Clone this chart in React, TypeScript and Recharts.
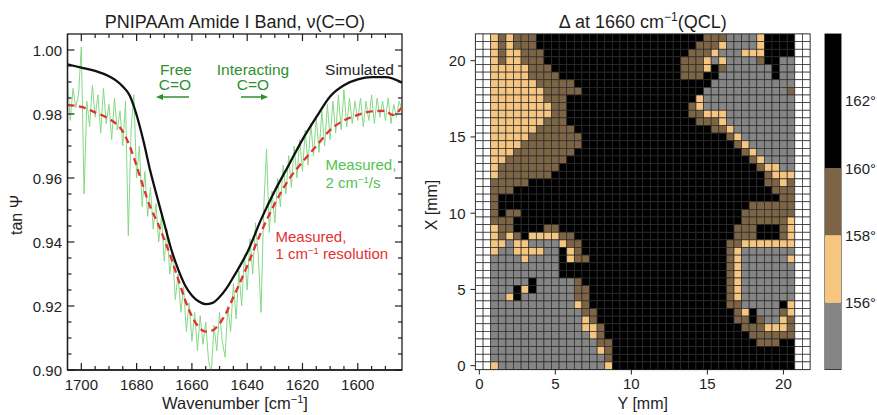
import { LineChart, Line, XAxis, YAxis, ScatterChart, Scatter, BarChart, Bar } from 'recharts';

const FONT = '"Liberation Sans", Arial, Helvetica, sans-serif';
const INK = '#1e1e1e';

// ---------- left panel: PNIPAAm amide I band ----------
const SIM_WN = [1705, 1700, 1695, 1690, 1687.5, 1685, 1682.5, 1680, 1677.5, 1675, 1672.5, 1670, 1667.5, 1665, 1662.5, 1660, 1657.5, 1655, 1652.5, 1650, 1647.5, 1645, 1642.5, 1640, 1635, 1630, 1625, 1620, 1615, 1610, 1605, 1600, 1595, 1590, 1584];
const SIMULATED = [0.9955, 0.9945, 0.9935, 0.9918, 0.9905, 0.9886, 0.9858, 0.9797, 0.9715, 0.962, 0.9538, 0.9458, 0.9378, 0.9315, 0.9265, 0.9233, 0.9214, 0.9206, 0.921, 0.9228, 0.9255, 0.929, 0.9327, 0.9367, 0.947, 0.956, 0.964, 0.972, 0.979, 0.9855, 0.989, 0.9908, 0.9915, 0.9915, 0.9898];
const MEAS_WN = [1705, 1700, 1695, 1690, 1687.5, 1685, 1682.5, 1680, 1677.5, 1675, 1672.5, 1670, 1667.5, 1665, 1662.5, 1660, 1657.5, 1655, 1652.5, 1650, 1647.5, 1645, 1642.5, 1640, 1635, 1630, 1625, 1620, 1615, 1610, 1605, 1600, 1595, 1590, 1587.5, 1584];
const MEASURED_1CM = [0.9828, 0.9822, 0.9805, 0.9785, 0.977, 0.9745, 0.97, 0.9638, 0.957, 0.9508, 0.9462, 0.9408, 0.935, 0.9285, 0.922, 0.9168, 0.9134, 0.912, 0.9124, 0.9145, 0.918, 0.9228, 0.9275, 0.9325, 0.943, 0.952, 0.9595, 0.965, 0.97, 0.975, 0.978, 0.9797, 0.9808, 0.981, 0.9797, 0.982];
// fast scan (2 cm-1/s), one reading per cm-1 from 1705 down to 1584
const SCAN_START = 1705;
const MEASURED_SCAN = [
  0.991, 0.978, 0.988, 0.982, 0.986, 1.001, 0.955, 0.984, 0.976, 0.989,
  0.979, 0.986, 0.974, 0.988, 0.977, 0.983, 0.972, 0.985, 0.975, 0.981,
  0.97, 0.984, 0.942, 0.975, 0.986, 0.96, 0.97, 0.951, 0.962, 0.948,
  0.957, 0.944, 0.952, 0.94, 0.948, 0.934, 0.944, 0.93, 0.937, 0.922,
  0.93, 0.918, 0.926, 0.912, 0.921, 0.909, 0.918, 0.906, 0.917, 0.908,
  0.915, 0.903, 0.899, 0.914, 0.906, 0.918, 0.909, 0.904, 0.92, 0.912,
  0.927, 0.916, 0.931, 0.92, 0.936, 0.925, 0.941, 0.93, 0.946, 0.936,
  0.918, 0.951, 0.969, 0.943, 0.956, 0.946, 0.96, 0.951, 0.964, 0.955,
  0.967, 0.957, 0.97, 0.96, 0.972, 0.962, 0.975, 0.964, 0.977, 0.967,
  0.979, 0.968, 0.981, 0.97, 0.983, 0.972, 0.984, 0.974, 0.986, 0.975,
  0.9875, 0.976, 0.985, 0.977, 0.984, 0.978, 0.985, 0.976, 0.984, 0.978,
  0.986, 0.977, 0.985, 0.979, 0.984, 0.978, 0.985, 0.977, 0.983, 0.979,
  0.984, 0.981,
];

const WN_LABELS = [1700, 1680, 1660, 1640, 1620, 1600];
const WN_TICKS = [1700, 1695, 1690, 1685, 1680, 1675, 1670, 1665, 1660, 1655, 1650, 1645, 1640, 1635, 1630, 1625, 1620, 1615, 1610, 1605, 1600, 1595, 1590];
const TAN_LABELS = [0.9, 0.92, 0.94, 0.96, 0.98, 1.0];
const TAN_TICKS = [0.9, 0.905, 0.91, 0.915, 0.92, 0.925, 0.93, 0.935, 0.94, 0.945, 0.95, 0.955, 0.96, 0.965, 0.97, 0.975, 0.98, 0.985, 0.99, 0.995, 1.0];

// ---------- right panel: Δ map, 0.5 mm pixels ----------
// k >160°, b 158-160°, t 156-158°, g <156°; rows from top (X = 21.5 mm) down to X = 0
// each row = [Y 1.0..10.5 mm, Y 11.0..20.5 mm]; the two outer columns each side are unmeasured
const HEAT_ROWS: [string, string][] = [
  ['tbtbbbkkkkkkkkkkkkkk', 'kkkkkkkkbbbggggtkkkk'],
  ['tbtbbbkkkkkkkkkkkkkk', 'kkkkkkkbbbtggggtkkkk'],
  ['tbttbbbkkkkkkkkkkkkk', 'kkkkkkbbbtgggtttkkkk'],
  ['tbttbbbkkkkkkkkkkkkk', 'kkkkkbbbtgtggggbkkgg'],
  ['tttttbbbkkkkkkkkkkkk', 'kkkkkbbbtkbggggggkgg'],
  ['tttttbbbbkkkkkkkkkkk', 'kkkkkbbbkkgggggggkgg'],
  ['ttttttbbbbbkkkkkkkkk', 'kkkkkkkkkggggggggggg'],
  ['tttttttbbbbbkkkkkkkk', 'kkkkkkkkgggggggggggb'],
  ['tttttttbbbkkkkkkkkkk', 'kkkkkkktgggggggggggg'],
  ['ttttttttbbkkkkkkkkkk', 'kkkkkkbtgggggggggggg'],
  ['ttttttttbbkkkkkkkkkk', 'kkkkkkbbtttggggggggg'],
  ['tttttttbbbkkkkkkkkkk', 'kkkkkkkbbbtggggggggg'],
  ['ttttttbbbbbkkkkkkkkk', 'kkkkkkkkkbbtgggggggg'],
  ['tttttbbbbbbbkkkkkkkk', 'kkkkkkkkkkkbtggggggg'],
  ['ttttbbbbbbbbkkkkkkkk', 'kkkkkkkkkkkkbtgggggg'],
  ['tttbbbbbbbbkkkkkkkkk', 'kkkkkkkkkkkkkbtggggg'],
  ['ttbbbbbbbbkkkkkkkkkk', 'kkkkkkkkkkkkkkbtgggg'],
  ['tbbbbbbbbkkkkkkkkkkk', 'kkkkkkkkkkkkkkkbttgg'],
  ['tbbbbbbbkkkkkkkkkkkk', 'kkkkkkkkkkkkkkkkbttt'],
  ['bbbbbkkkkkkkkkkkkkkk', 'kkkkkkkkkkkkkkkkbbtb'],
  ['bbbkkkkkkkkkkkkkkkkk', 'kkkkkkkkkkkkkkkkkbbb'],
  ['bkkkkkkkkkkkkkkkkkkk', 'kkkkkkkkkkkkkkkkkkbb'],
  ['bkkkkkkkkkkkkkkkkkkk', 'kkkkkkkkkkkkkkbbbbbb'],
  ['bkbbkkkkkkkkkkkkkkkk', 'kkkkkkkkkkkkkbbbbbbb'],
  ['bbbkkkkkkkkkkkkkkkkk', 'kkkkkkkkkkkkkbbbbbbt'],
  ['tbbkkkkbbkkkkkkkkkkk', 'kkkkkkkkkkkkbbbkkkbt'],
  ['tbtbkttttbbkkkkkkkkk', 'kkkkkkkkkkkkbbbkkkbt'],
  ['ttgttggggtbbkkkkkkkk', 'kkkkkkkkkkkbbttttttt'],
  ['tggttttggktbkkkkkkkk', 'kkkkkkkkkkkbtggggggg'],
  ['ggggtggggktbbkkkkkkk', 'kkkkkkkkkkkbtggggggt'],
  ['gggggggggkkkkkkkkkkk', 'kkkkkkkkkkkbtggggggg'],
  ['gggggggggkkkkkkkkkkk', 'kkkkkkkkkkkbtggggggg'],
  ['gggggkgggggbkkkkkkkk', 'kkkkkkkkkkkbtggggggg'],
  ['gggktkgggggbbkkkkkkk', 'kkkkkkkkkkkbtggggggg'],
  ['ggtkgggggggbbkkkkkkk', 'kkkkkkkkkkkbtggggggg'],
  ['gggggggggggtbkkkkkkk', 'kkkkkkkkkkkbbgggggkt'],
  ['ggggggggggggbbkkkkkk', 'kkkkkkkkkkkkbtkgggbt'],
  ['ggggggggggggtbkkkkkk', 'kkkkkkkkkkkkbbkbggtb'],
  ['ggggggggggggttbkkkkk', 'kkkkkkkkkkkkkbbbtttb'],
  ['gggggggggggggtbkkkkk', 'kkkkkkkkkkkkkkbbbbbb'],
  ['ggggggggggggggbbkkkk', 'kkkkkkkkkkkkkkkbbbkk'],
  ['ggggggggggggggtbkkkk', 'kkkkkkkkkkkkkkkkkkkk'],
  ['gggggggggggggggbkkkk', 'kkkkkkkkkkkkkkkkkkkk'],
  ['tggggggggggggggtkkkk', 'kkkkkkkkkkkkkkkkkkkk'],
];
const PIXEL_MM = 0.5;
const MM_TICKS = [0, 5, 10, 15, 20];
const LEVEL_COLORS: Record<string, string> = {
  '.': '#ffffff',
  g: '#858585',
  t: '#f6c57f',
  b: '#7d6444',
  k: '#000000',
};

// colorbar
const CB_BOUNDS = [154, 156, 158, 160, 164];
const CB_COLORS = ['#858585', '#f6c57f', '#7d6444', '#000000'];
const CB_TICKS = [156, 158, 160, 162];

// ---------- layout ----------
const LP = { left: 67.5, right: 402, top: 34, bottom: 370 };
const HP = { left: 65.5, width: 334.5, top: 34, height: 335.5 };
const NCOL = 44;
const CELL_W = HP.width / NCOL;
const CELL_H = HP.height / HEAT_ROWS.length;

const scanData = MEASURED_SCAN.map((v, i) => ({ w: SCAN_START - i, v }));
const measData = MEAS_WN.map((w, i) => ({ w, v: MEASURED_1CM[i] }));
const simData = SIM_WN.map((w, i) => ({ w, v: SIMULATED[i] }));

const fix20 = (s: string) => (s + 'kkkkkkkkkkkkkkkkkkkk').slice(0, 20);
const heatCells = HEAT_ROWS.flatMap(([west, east], r) => {
  const row = '..' + fix20(west) + fix20(east) + '..';
  const y = (HEAT_ROWS.length - 1 - r) * PIXEL_MM;
  return row.split('').map((c, i) => ({ x: i * PIXEL_MM, y, c }));
});

const cbRow = [{
  name: 'cb',
  base: CB_BOUNDS[0],
  l0: CB_BOUNDS[1] - CB_BOUNDS[0],
  l1: CB_BOUNDS[2] - CB_BOUNDS[1],
  l2: CB_BOUNDS[3] - CB_BOUNDS[2],
  l3: CB_BOUNDS[4] - CB_BOUNDS[3],
}];

function WnTick(props: any) {
  const { x, payload } = props;
  const v = payload.value;
  const major = WN_LABELS.includes(v);
  const len = major ? 7 : 4;
  return (
    <g>
      <line x1={x} x2={x} y1={LP.bottom} y2={LP.bottom - len} stroke={INK} strokeWidth={1.2} />
      <line x1={x} x2={x} y1={LP.top} y2={LP.top + len} stroke={INK} strokeWidth={1.2} />
      {major && (
        <text x={x} y={LP.bottom + 20} textAnchor="middle" fontSize={15} fontFamily={FONT} fill={INK}>
          {v}
        </text>
      )}
    </g>
  );
}

function TanTick(props: any) {
  const { y, payload } = props;
  const v = payload.value;
  const major = TAN_LABELS.some((m) => Math.abs(m - v) < 1e-6);
  const len = major ? 7 : 4;
  return (
    <g>
      <line x1={LP.left} x2={LP.left + len} y1={y} y2={y} stroke={INK} strokeWidth={1.2} />
      <line x1={LP.right} x2={LP.right - len} y1={y} y2={y} stroke={INK} strokeWidth={1.2} />
      {major && (
        <text x={LP.left - 5.5} y={y + 5.5} textAnchor="end" fontSize={15} fontFamily={FONT} fill={INK}>
          {v.toFixed(2)}
        </text>
      )}
    </g>
  );
}

function HeatCell(props: any) {
  const { cx, cy, payload } = props;
  return (
    <rect
      x={cx - CELL_W / 2}
      y={cy - CELL_H / 2}
      width={CELL_W}
      height={CELL_H}
      fill={LEVEL_COLORS[payload.c] || '#000'}
      stroke="#2a2a2a"
      strokeWidth={0.7}
    />
  );
}

const txt = { fontFamily: FONT, fill: INK };
const GREEN_DARK = '#2f8f2f';
const GREEN_LIGHT = '#50c450';
const RED = '#e33030';

function Spectrum() {
  return (
    <LineChart width={410} height={415} margin={{ top: 34, right: 8, bottom: 20, left: 12 }}>
      <XAxis
        dataKey="w"
        type="number"
        domain={[1584, 1705]}
        reversed
        allowDataOverflow
        ticks={WN_TICKS}
        interval={0}
        tick={WnTick}
        tickLine={false}
        axisLine={{ stroke: INK, strokeWidth: 1.3 }}
        height={25}
      />
      <YAxis
        type="number"
        domain={[0.9, 1.005]}
        allowDataOverflow
        ticks={TAN_TICKS}
        interval={0}
        tick={TanTick}
        tickLine={false}
        axisLine={{ stroke: INK, strokeWidth: 1.3 }}
        width={55.5}
      />
      <Line data={scanData} dataKey="v" type="linear" stroke="#86d886" strokeWidth={1} dot={false} isAnimationActive={false} />
      <Line data={measData} dataKey="v" type="monotone" stroke={RED} strokeWidth={2.3} strokeDasharray="7 4.5" dot={false} isAnimationActive={false} />
      <Line data={simData} dataKey="v" type="monotone" stroke="#111" strokeWidth={2.3} dot={false} isAnimationActive={false} />
      <rect x={LP.left} y={LP.top} width={LP.right - LP.left} height={LP.bottom - LP.top} fill="none" stroke={INK} strokeWidth={1.3} />

      <text x={235} y={28} textAnchor="middle" fontSize={18} {...txt}>PNIPAAm Amide I Band, ν(C=O)</text>

      <text fontSize={15.5} fontFamily={FONT} fill={GREEN_DARK} textAnchor="middle">
        <tspan x={176} y={74.5}>Free</tspan>
        <tspan x={175} dy={15.5}>C=O</tspan>
      </text>
      <line x1={189} x2={161} y1={97} y2={97} stroke={GREEN_DARK} strokeWidth={1.5} />
      <path d="M156,97 L163,94 L163,100 Z" fill={GREEN_DARK} />
      <text fontSize={15.5} fontFamily={FONT} fill={GREEN_DARK} textAnchor="middle">
        <tspan x={253} y={74.5}>Interacting</tspan>
        <tspan x={253} dy={15.5}>C=O</tspan>
      </text>
      <line x1={241} x2={263} y1={97} y2={97} stroke={GREEN_DARK} strokeWidth={1.5} />
      <path d="M268,97 L261,94 L261,100 Z" fill={GREEN_DARK} />

      <text x={394} y={74.5} textAnchor="end" fontSize={15.5} {...txt}>Simulated</text>

      <text fontSize={15} fontFamily={FONT} fill={GREEN_LIGHT}>
        <tspan x={325.5} y={170}>Measured,</tspan>
        <tspan x={325.5} dy={17.5}>2 cm</tspan>
        <tspan dy={-5} fontSize={9.5}>−1</tspan>
        <tspan dy={5}>/s</tspan>
      </text>

      <text fontSize={15} fontFamily={FONT} fill={RED}>
        <tspan x={275.5} y={241.5}>Measured,</tspan>
        <tspan x={275.5} dy={17.5}>1 cm</tspan>
        <tspan dy={-5} fontSize={9.5}>−1</tspan>
        <tspan dy={5}> resolution</tspan>
      </text>

      <text x={235} y={409} textAnchor="middle" fontSize={16.5} {...txt}>
        Wavenumber [cm<tspan dy={-6} fontSize={11}>−1</tspan><tspan dy={6}>]</tspan>
      </text>
      <text x={22} y={215} textAnchor="middle" fontSize={16} transform="rotate(-90 22 215)" {...txt}>tan Ψ</text>
    </LineChart>
  );
}

function DeltaMap() {
  return (
    <ScatterChart width={410} height={415} margin={{ top: 34, right: 10, bottom: 20.5, left: 25.5 }}>
      <XAxis
        dataKey="x"
        type="number"
        domain={[-0.25, 21.75]}
        allowDataOverflow
        ticks={MM_TICKS}
        interval={0}
        height={25}
        tickSize={5}
        tickMargin={4}
        stroke={INK}
        tick={{ fontSize: 15, fill: INK, fontFamily: FONT }}
      />
      <YAxis
        dataKey="y"
        type="number"
        domain={[-0.25, 21.75]}
        allowDataOverflow
        ticks={MM_TICKS}
        interval={0}
        width={40}
        tickSize={5}
        tickMargin={5}
        stroke={INK}
        tick={{ fontSize: 15, fill: INK, fontFamily: FONT }}
      />
      <Scatter data={heatCells} shape={HeatCell} isAnimationActive={false} />
      <rect x={HP.left} y={HP.top} width={HP.width} height={HP.height} fill="none" stroke={INK} strokeWidth={1.2} />

      <text x={HP.left + HP.width / 2} y={28} textAnchor="middle" fontSize={18} {...txt}>
        Δ at 1660 cm<tspan dy={-7} fontSize={12}>−1</tspan><tspan dy={7}>(QCL)</tspan>
      </text>
      <text x={HP.left + HP.width / 2} y={409} textAnchor="middle" fontSize={16} {...txt}>Y [mm]</text>
      <text x={27} y={205} textAnchor="middle" fontSize={16} transform="rotate(-90 27 205)" {...txt}>X [mm]</text>
    </ScatterChart>
  );
}

function ColorBar() {
  const keys = ['l0', 'l1', 'l2', 'l3'];
  return (
    <BarChart width={57} height={415} data={cbRow} margin={{ top: 34, right: 0, bottom: 45.5, left: 5 }} barCategoryGap={0}>
      <XAxis dataKey="name" hide />
      <YAxis
        orientation="right"
        type="number"
        domain={[CB_BOUNDS[0], CB_BOUNDS[CB_BOUNDS.length - 1]]}
        allowDataOverflow
        ticks={CB_TICKS}
        interval={0}
        width={36}
        axisLine={false}
        tickLine={false}
        tickSize={0}
        tickMargin={4}
        tickFormatter={(v) => `${v}°`}
        tick={{ fontSize: 15, fill: INK, fontFamily: FONT }}
      />
      <Bar dataKey="base" stackId="cb" fill="none" isAnimationActive={false} />
      {keys.map((k, i) => (
        <Bar key={k} dataKey={k} stackId="cb" fill={CB_COLORS[i]} isAnimationActive={false} />
      ))}
      <rect x={5} y={34} width={16} height={335.5} fill="none" stroke={INK} strokeWidth={1} />
    </BarChart>
  );
}

export default function App() {
  return (
    <div style={{ position: 'absolute', left: 0, top: 0, width: 877, height: 415, background: '#fff', fontFamily: FONT }}>
      <div style={{ position: 'absolute', left: 0, top: 0 }}>
        <Spectrum />
      </div>
      <div style={{ position: 'absolute', left: 410, top: 0 }}>
        <DeltaMap />
      </div>
      <div style={{ position: 'absolute', left: 820, top: 0 }}>
        <ColorBar />
      </div>
    </div>
  );
}
